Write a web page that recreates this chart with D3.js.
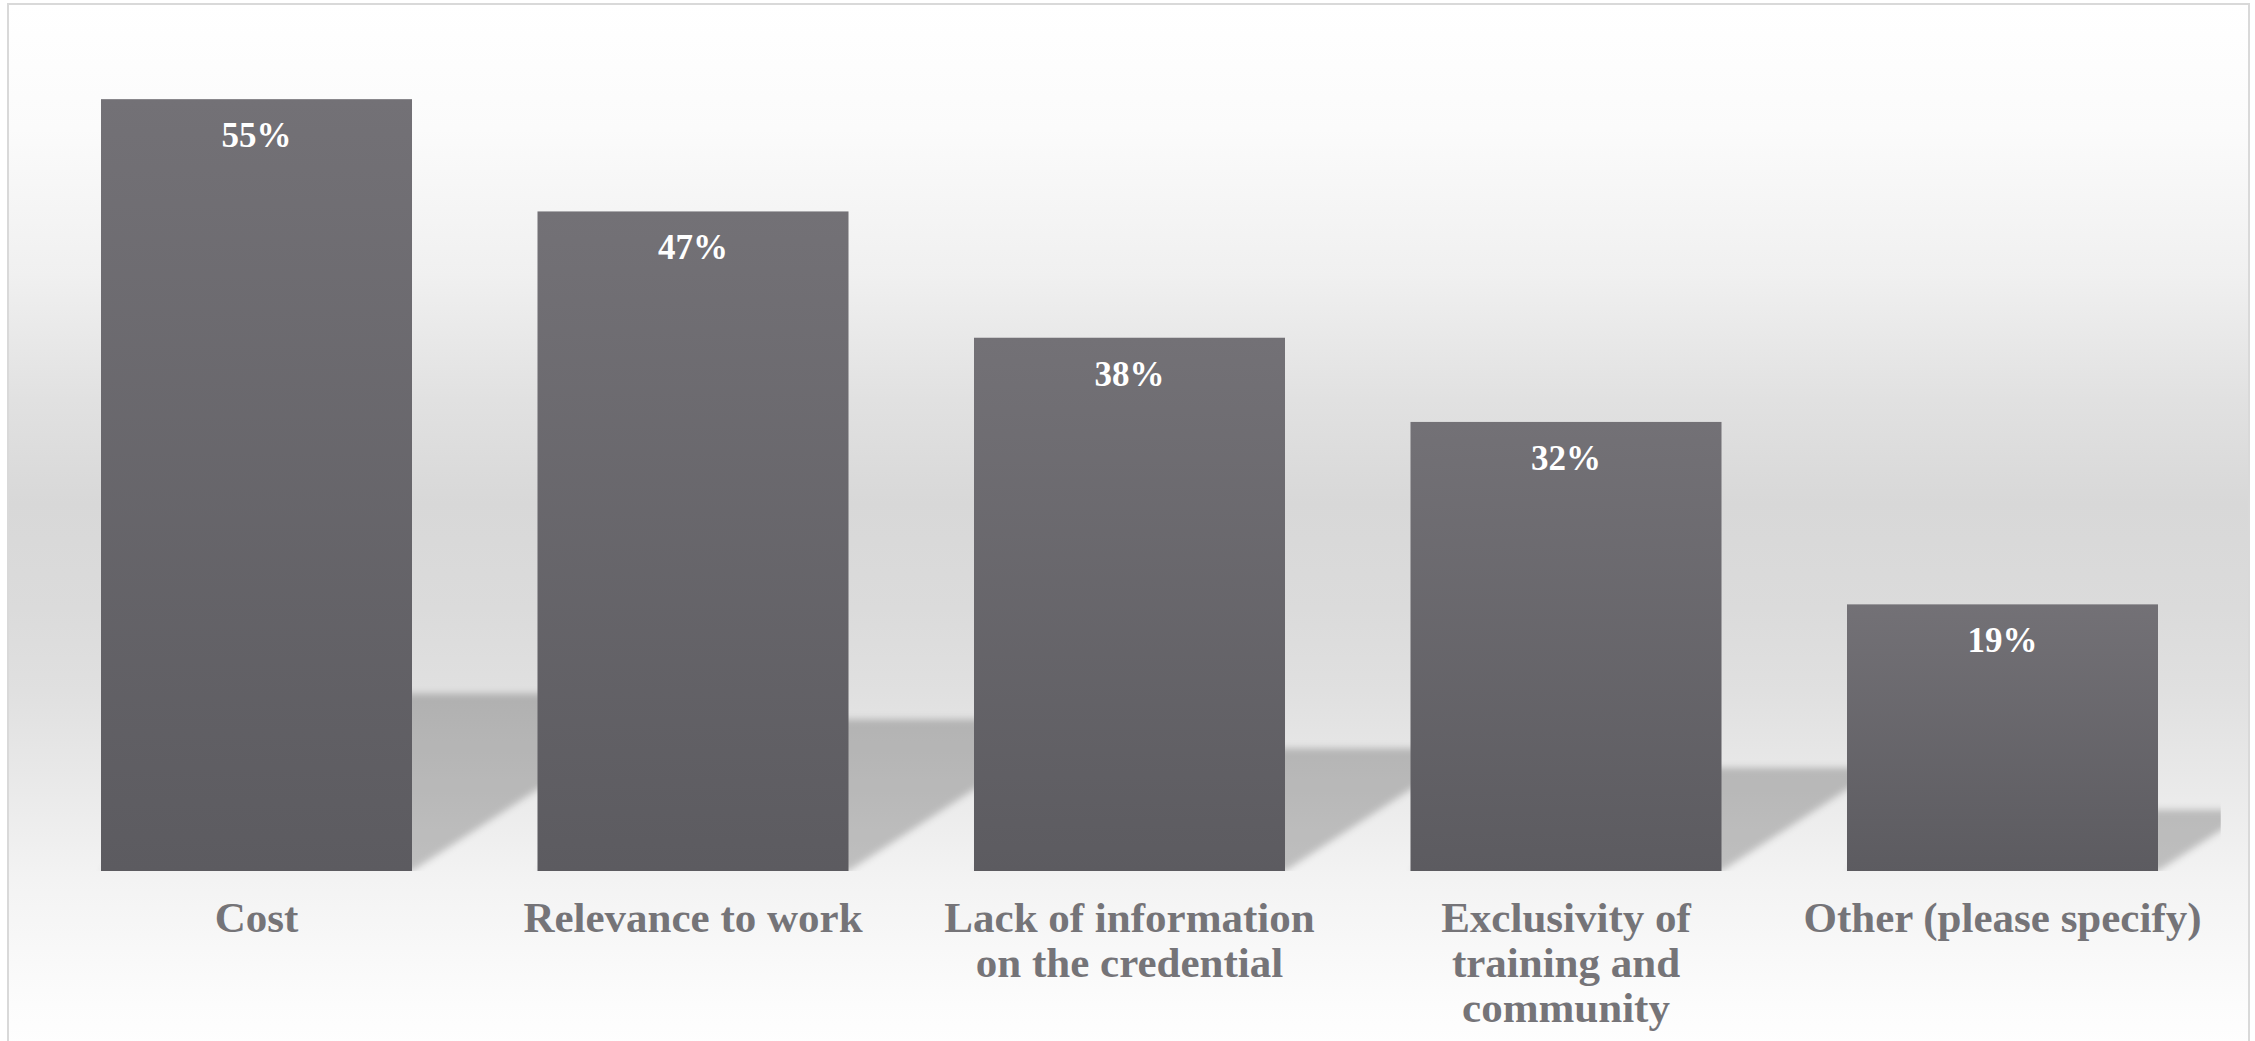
<!DOCTYPE html>
<html>
<head>
<meta charset="utf-8">
<script src="https://cdn.jsdelivr.net/npm/d3@7"></script>
<style>
  html, body { margin: 0; padding: 0; background: #ffffff; }
  svg { display: block; }
</style>
</head>
<body>
<svg id="chart" width="2255" height="1041"></svg>
<script>
// Reasons given for not pursuing the credential (share of respondents)
const categories = [
  "Cost",
  "Relevance to work",
  "Lack of information\non the credential",
  "Exclusivity of\ntraining and\ncommunity",
  "Other (please specify)"
];
const values = [55, 47, 38, 32, 19];
const valueLabels = ["55%", "47%", "38%", "32%", "19%"];
const axisMax = 60;

const W = 2255, H = 1041;
const frame = { left: 8, top: 4, right: 2249, bottom: 1046 };
const plot = { left: 38.25, right: 2220.75, top: 29, bottom: 871 };

const svg = d3.select("#chart");
const defs = svg.append("defs");

// Soft grey backdrop, darkest around the middle of the chart area
const bg = defs.append("linearGradient")
  .attr("id", "bgGrad")
  .attr("gradientUnits", "userSpaceOnUse")
  .attr("x1", 0).attr("y1", frame.top)
  .attr("x2", 0).attr("y2", frame.bottom);
[
  [0, "#ffffff"], [0.12, "#fbfbfb"], [0.26, "#f0f0f0"], [0.38, "#e1e1e1"],
  [0.48, "#d8d8d8"], [0.58, "#dbdbdb"], [0.66, "#e0e0e0"], [0.84, "#f3f3f3"],
  [0.96, "#fcfcfc"], [1, "#fefefe"]
].forEach(([o, c]) => bg.append("stop").attr("offset", o).attr("stop-color", c));

// Bar fill: slightly lighter at the top
const barGrad = defs.append("linearGradient")
  .attr("id", "barGrad")
  .attr("x1", 0).attr("y1", 0).attr("x2", 0).attr("y2", 1);
barGrad.append("stop").attr("offset", 0).attr("stop-color", "#737176");
barGrad.append("stop").attr("offset", 1).attr("stop-color", "#5c5b60");

const blur = defs.append("filter")
  .attr("id", "shadowBlur")
  .attr("x", "-20%").attr("y", "-20%").attr("width", "140%").attr("height", "140%");
blur.append("feGaussianBlur").attr("stdDeviation", 3.5);

defs.append("clipPath").attr("id", "plotClip")
  .append("rect")
  .attr("x", plot.left).attr("y", plot.top)
  .attr("width", plot.right - plot.left)
  .attr("height", plot.bottom - plot.top);

// Chart frame
svg.append("rect")
  .attr("x", frame.left).attr("y", frame.top)
  .attr("width", frame.right - frame.left)
  .attr("height", frame.bottom - frame.top)
  .attr("fill", "url(#bgGrad)")
  .attr("stroke", "#d9d9d9")
  .attr("stroke-width", 2);

const x = d3.scaleBand()
  .domain(categories)
  .range([plot.left, plot.right])
  .paddingInner(0.2875)
  .paddingOuter(0.14375);

const y = d3.scaleLinear()
  .domain([0, axisMax])
  .range([plot.bottom, plot.top]);

const data = categories.map((c, i) => ({ cat: c, value: values[i], label: valueLabels[i] }));

// Perspective shadows cast back onto the floor behind each bar
const shadowRatio = 0.23;
const shadowSlope = 0.65;
const line = d3.line();
svg.append("g")
  .attr("clip-path", "url(#plotClip)")
  .selectAll("path")
  .data(data)
  .join("path")
  .attr("d", d => {
    const x0 = x(d.cat), x1 = x0 + x.bandwidth();
    const base = y(0);
    const h = shadowRatio * (base - y(d.value));
    const dx = h / shadowSlope;
    return line([[x0, base], [x1, base], [x1 + dx, base - h], [x0 + dx, base - h]]) + "Z";
  })
  .attr("fill", "#000000")
  .attr("fill-opacity", 0.21)
  .attr("filter", "url(#shadowBlur)");

// Bars
svg.append("g")
  .selectAll("rect")
  .data(data)
  .join("rect")
  .attr("x", d => x(d.cat))
  .attr("y", d => y(d.value))
  .attr("width", x.bandwidth())
  .attr("height", d => y(0) - y(d.value))
  .attr("fill", "url(#barGrad)");

// Value labels inside the top of each bar
svg.append("g")
  .selectAll("text")
  .data(data)
  .join("text")
  .attr("x", d => x(d.cat) + x.bandwidth() / 2)
  .attr("y", d => y(d.value) + 48)
  .attr("text-anchor", "middle")
  .attr("fill", "#ffffff")
  .style("font-family", "'Liberation Serif', 'DejaVu Serif', serif")
  .style("font-weight", "bold")
  .style("font-size", "35px")
  .text(d => d.label);

// Category axis labels
const xAxis = d3.axisBottom(x).tickSize(0).tickPadding(0);
const axisG = svg.append("g")
  .attr("transform", `translate(0,${plot.bottom})`)
  .call(xAxis);
axisG.select(".domain").remove();
axisG.selectAll(".tick text").each(function(d) {
  const t = d3.select(this);
  const lines = d.split("\n");
  t.text(null)
    .attr("y", 0)
    .attr("dy", null)
    .attr("fill", "#757478")
    .style("font-family", "'Liberation Serif', 'DejaVu Serif', serif")
    .style("font-weight", "bold")
    .style("font-size", "43px");
  lines.forEach((ln, i) => {
    t.append("tspan")
      .attr("x", 0)
      .attr("y", 61 + i * 45)
      .text(ln);
  });
});
</script>
</body>
</html>
